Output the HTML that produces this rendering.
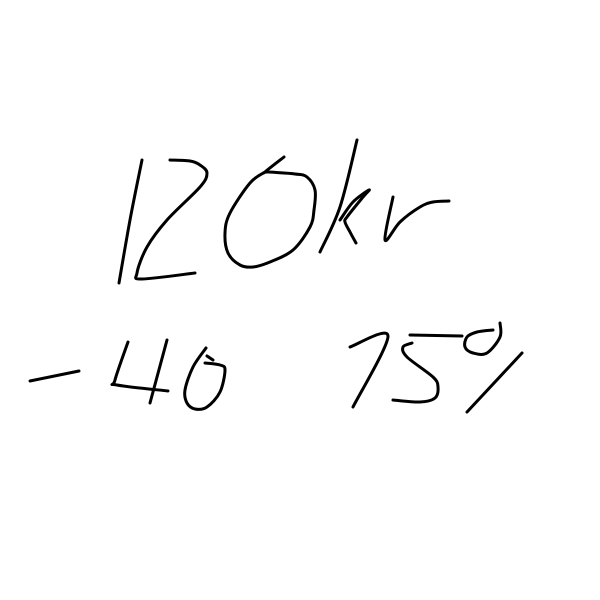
<!DOCTYPE html>
<html>
<head>
<meta charset="utf-8">
<style>
  html,body{margin:0;padding:0;background:#fff;}
  svg{display:block;}
  .s{fill:none;stroke:#000;stroke-width:3;stroke-linecap:round;stroke-linejoin:round;}
  .hidden-text{font-family:"Liberation Sans",sans-serif;font-size:10px;fill:#fff;fill-opacity:0;}
</style>
</head>
<body>
<svg id="sk" width="600" height="600" viewBox="0 0 600 600">
  <rect width="600" height="600" fill="#fff"/>
  <text class="hidden-text" x="120" y="230">120kr</text>
  <text class="hidden-text" x="30" y="390">-40</text>
  <text class="hidden-text" x="350" y="390">75%</text>
  <g>
    <polyline class="s" points="142,160 130,220 119,283"/>
    <polyline class="s" points="170,160 190,161 200,165 207,173 200,187 167,220 147,247 137,273 142,279 195,273"/>
    <polyline class="s" points="284,157 265,172 268,172 295,174 307,177 315,190 314,210 310,227 293,250 270,262 253,267 240,265 228,253 225,233 230,213 250,183 265,172"/>
    <polyline class="s" points="357,140 340,207 320,252"/>
    <polyline class="s" points="340,220 353,202 369,190 363,197 347,217 345,222 350,232 356,243"/>
    <polyline class="s" points="393,197 385,240 400,222 420,207 433,202 449,201"/>
  </g>
  <g>
    <polyline class="s" points="30,381 79,371"/>
    <polyline class="s" points="128,342 115,380 117,385 168,391"/>
    <polyline class="s" points="167,340 150,403"/>
    <polyline class="s" points="206,348 193,367 185,390 187,403 195,409 207,407 220,392 225,370 220,365 205,363"/>
    <polyline class="s" points="207,356 213,360"/>
  </g>
  <g>
    <polyline class="s" points="350,347 388,336 353,407"/>
    <polyline class="s" points="410,335 462,336"/>
    <polyline class="s" points="412,343 403,347 407,357 433,377 438,387 435,398 420,402 393,400"/>
    <polyline class="s" points="500,323 500,337 487,353 473,353 465,347 467,337 477,332 493,330"/>
    <polyline class="s" points="522,353 467,412"/>
  </g>
</svg>
<script>
(function(){
  var NS='http://www.w3.org/2000/svg';
  var pls=document.querySelectorAll('#sk polyline');
  pls.forEach(function(pl){
    var pts=pl.getAttribute('points').trim().split(/\s+/).map(function(p){var a=p.split(',');return [+a[0],+a[1]];});
    if(pts.length<3) return;
    var d='M'+pts[0][0]+','+pts[0][1];
    for(var i=0;i<pts.length-1;i++){
      var p0=pts[i-1]||pts[i],p1=pts[i],p2=pts[i+1],p3=pts[i+2]||p2;
      var c1x=p1[0]+(p2[0]-p0[0])/6,c1y=p1[1]+(p2[1]-p0[1])/6;
      var c2x=p2[0]-(p3[0]-p1[0])/6,c2y=p2[1]-(p3[1]-p1[1])/6;
      d+=' C'+c1x.toFixed(1)+','+c1y.toFixed(1)+' '+c2x.toFixed(1)+','+c2y.toFixed(1)+' '+p2[0]+','+p2[1];
    }
    var path=document.createElementNS(NS,'path');
    path.setAttribute('class','s');
    path.setAttribute('d',d);
    
    
    pl.parentNode.replaceChild(path,pl);
  });
})();
</script>
</body>
</html>
